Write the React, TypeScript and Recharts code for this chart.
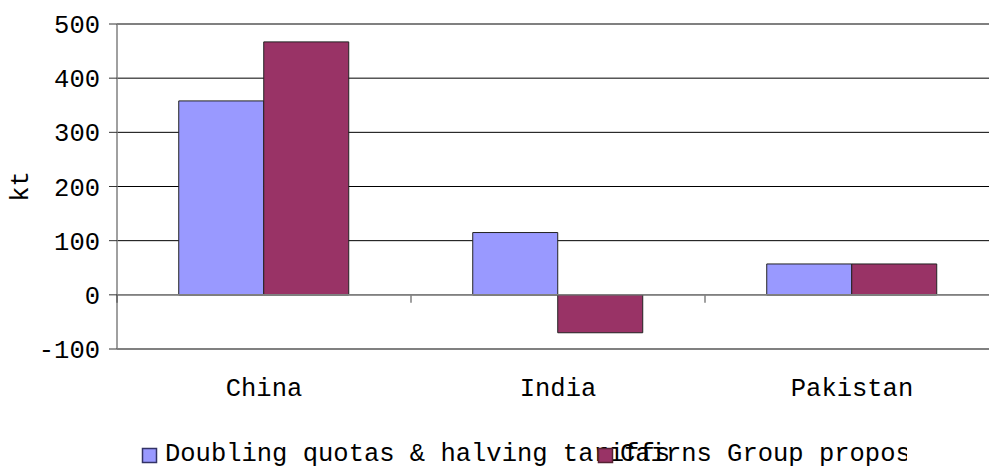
import { BarChart, Bar, XAxis, YAxis, CartesianGrid, ReferenceLine } from "recharts";

const categories = ["China", "India", "Pakistan"];
const doublingQuotas = [358, 115, 57];
const cairnsGroup = [467, -70, 57];
const yTicks = [-100, 0, 100, 200, 300, 400, 500];
const seriesNames = ["Doubling quotas & halving tariffs", "Cairns Group proposal"];
const seriesColors = ["#9999ff", "#993366"];

const data = categories.map((name, i) => ({
  name,
  doubling: doublingQuotas[i],
  cairns: cairnsGroup[i],
}));

const FONT = '"Liberation Mono", "Courier New", monospace';
const FONT_SIZE = 25.5;

// zero line with Excel-style tick marks on the category boundaries
function ZeroAxis(props: any) {
  const { x1, x2, y1 } = props;
  if (x1 == null) return null;
  const step = (x2 - x1) / categories.length;
  const marks = [];
  for (let i = 0; i <= categories.length; i++) {
    const x = x1 + i * step;
    marks.push(
      <line key={i} x1={x} x2={x} y1={y1} y2={y1 + 8} stroke={i === 0 ? "#000" : "#808080"} strokeWidth={1.5} />
    );
  }
  return (
    <g>
      <line x1={x1} x2={x2} y1={y1} y2={y1} stroke="#808080" strokeWidth={1.5} />
      {marks}
    </g>
  );
}

function YTitle(props: any) {
  const vb = props.viewBox || { x: 0, y: 24, width: 117, height: 325 };
  const x = vb.x + 28;
  const y = vb.y + vb.height / 2;
  return (
    <text x={x} y={y} transform={`rotate(-90 ${x} ${y})`} textAnchor="middle" fontFamily={FONT} fontSize={FONT_SIZE} fill="#000">
      kt
    </text>
  );
}

export default function App() {
  return (
    <div style={{ position: "absolute", left: 0, top: 0, width: 989, height: 466, overflow: "hidden", background: "#fff" }}>
      <BarChart
        width={1000}
        height={466}
        data={data}
        margin={{ top: 24, right: 1, left: 0, bottom: 87 }}
        barCategoryGap="21%"
        barGap={0}
      >
        <CartesianGrid vertical={false} stroke="#000" strokeDasharray="" />
        <XAxis
          dataKey="name"
          axisLine={false}
          tickLine={false}
          tickSize={0}
          tickMargin={29}
          tick={{ fontFamily: FONT, fontSize: FONT_SIZE, fill: "#000" }}
        />
        <YAxis
          width={117}
          domain={[-100, 500]}
          ticks={yTicks}
          interval={0}
          axisLine={{ stroke: "#808080", strokeWidth: 1.5 }}
          tickLine={{ stroke: "#333" }}
          tickSize={8}
          tickMargin={9}
          tick={{ fontFamily: FONT, fontSize: FONT_SIZE, fill: "#000" }}
          label={{ content: YTitle }}
        />
        <ReferenceLine y={500} stroke="#808080" strokeWidth={1.5} />
        <ReferenceLine y={-100} stroke="#808080" strokeWidth={2} />
        <Bar dataKey="doubling" name={seriesNames[0]} fill={seriesColors[0]} stroke="#222" strokeWidth={1} isAnimationActive={false} />
        <Bar dataKey="cairns" name={seriesNames[1]} fill={seriesColors[1]} stroke="#222" strokeWidth={1} isAnimationActive={false} />
        <ReferenceLine y={0} shape={ZeroAxis} />
      </BarChart>
      <svg width={989} height={466} style={{ position: "absolute", left: 0, top: 0, pointerEvents: "none" }}>
        <defs>
          <clipPath id="legend-clip-1">
            <rect x={598} y={420} width={309} height={46} />
          </clipPath>
        </defs>
        <text x={165} y={461} fontFamily={FONT} fontSize={FONT_SIZE} fill="#000">
          {seriesNames[0]}
        </text>
        <rect x={142.5} y={448.5} width={14} height={14} fill={seriesColors[0]} stroke="#333366" strokeWidth={1.5} />
        <rect x={598.5} y={448.5} width={14} height={14} fill={seriesColors[1]} stroke="#552233" strokeWidth={1.5} />
        <text x={620} y={461} fontFamily={FONT} fontSize={FONT_SIZE} fill="#000" clipPath="url(#legend-clip-1)">
          {seriesNames[1]}
        </text>
      </svg>
    </div>
  );
}
